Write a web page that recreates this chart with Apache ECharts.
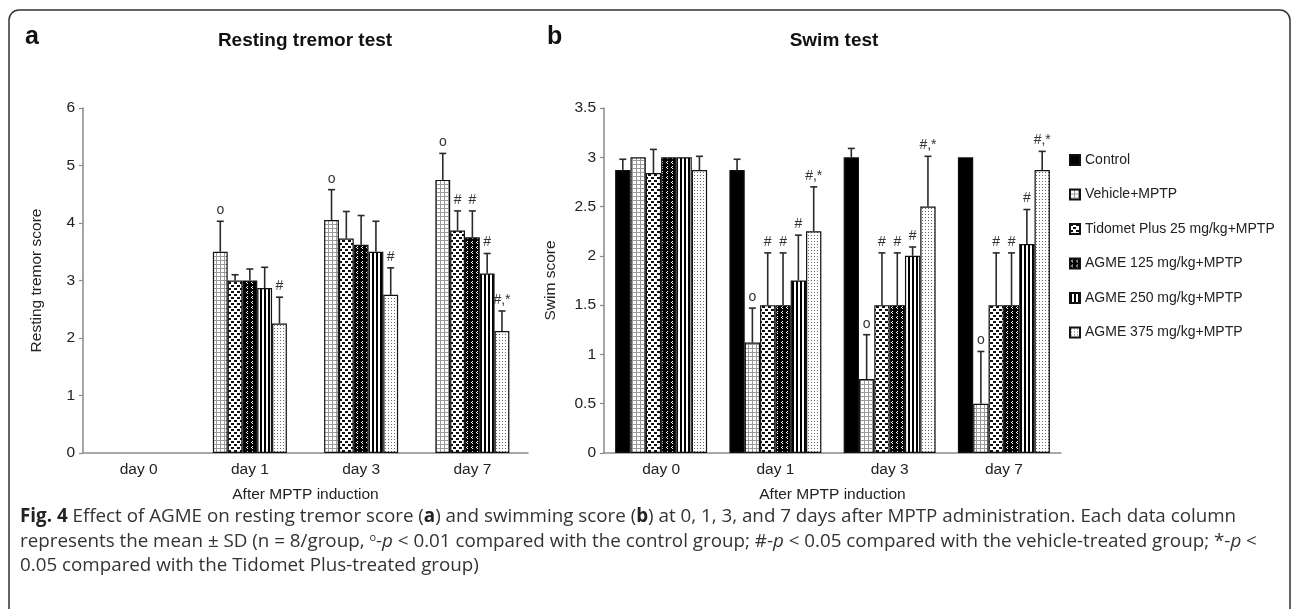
<!DOCTYPE html>
<html>
<head>
<meta charset="utf-8">
<script src="https://cdn.jsdelivr.net/npm/echarts@6/dist/echarts.min.js"></script>
<style>
  html, body { margin: 0; padding: 0; background: #fff; }
  #fig { width: 1292px; height: 609px; }
</style>
</head>
<body>
<div id="fig"></div>
<script>
const days = ['day 0', 'day 1', 'day 3', 'day 7'];
const groupNames = ['Control', 'Vehicle+MPTP', 'Tidomet Plus 25 mg/kg+MPTP', 'AGME 125 mg/kg+MPTP', 'AGME 250 mg/kg+MPTP', 'AGME 375 mg/kg+MPTP'];
const tremorTicks = [0, 6, 1];
const swimTicks = [0, 3.5, 0.5];

// a: resting tremor score (mean, SD, significance mark)
const tremorVehicle = [0, 3.5, 4.05, 4.75];
const tremorVehicleSd = [0, 0.53, 0.53, 0.46];
const tremorVehicleMark = ['', 'o', 'o', 'o'];
const tremorTidomet = [0, 3.0, 3.73, 3.87];
const tremorTidometSd = [0, 0.1, 0.47, 0.34];
const tremorTidometMark = ['', '', '', '#'];
const tremorAgme125 = [0, 3.0, 3.62, 3.75];
const tremorAgme125Sd = [0, 0.2, 0.51, 0.46];
const tremorAgme125Mark = ['', '', '', '#'];
const tremorAgme250 = [0, 2.87, 3.5, 3.12];
const tremorAgme250Sd = [0, 0.36, 0.53, 0.35];
const tremorAgme250Mark = ['', '', '', '#'];
const tremorAgme375 = [0, 2.25, 2.75, 2.12];
const tremorAgme375Sd = [0, 0.46, 0.47, 0.35];
const tremorAgme375Mark = ['', '#', '#', '#,*'];

// b: swim score
const swimControl = [2.87, 2.87, 3.0, 3.0];
const swimControlSd = [0.11, 0.11, 0.09, 0];
const swimControlMark = ['', '', '', ''];
const swimVehicle = [3.0, 1.12, 0.75, 0.5];
const swimVehicleSd = [0, 0.35, 0.45, 0.53];
const swimVehicleMark = ['', 'o', 'o', 'o'];
const swimTidomet = [2.84, 1.5, 1.5, 1.5];
const swimTidometSd = [0.24, 0.53, 0.53, 0.53];
const swimTidometMark = ['', '#', '#', '#'];
const swimAgme125 = [3.0, 1.5, 1.5, 1.5];
const swimAgme125Sd = [0, 0.53, 0.53, 0.53];
const swimAgme125Mark = ['', '#', '#', '#'];
const swimAgme250 = [3.0, 1.75, 2.0, 2.12];
const swimAgme250Sd = [0, 0.46, 0.09, 0.35];
const swimAgme250Mark = ['', '#', '#', '#'];
const swimAgme375 = [2.87, 2.25, 2.5, 2.87];
const swimAgme375Sd = [0.14, 0.45, 0.51, 0.19];
const swimAgme375Mark = ['', '#,*', '#,*', '#,*'];

const FONT = "'Liberation Sans', Arial, sans-serif";
const CAP = 18.8;

function tile (w, h, draw) {
  const c = document.createElement('canvas');
  c.width = w;
  c.height = h;
  const g = c.getContext('2d');
  g.fillStyle = '#fff';
  g.fillRect(0, 0, w, h);
  draw(g);
  return { image: c, repeat: 'repeat' };
}

const fills = [
  '#000',
  tile(4, 4, g => { g.fillStyle = '#9a9a9a'; g.fillRect(0, 0, 4, 1); g.fillRect(0, 0, 1, 4); }),
  tile(6, 6, g => {
    g.fillStyle = '#111';
    g.fillRect(0, 0, 3, 2);
    g.fillRect(3, 3, 3, 2);
  }),
  tile(5, 5, g => {
    g.fillStyle = '#000'; g.fillRect(0, 0, 5, 5);
    g.fillStyle = '#fff';
    [[2, 1], [1, 2], [2, 3]].forEach(p => g.fillRect(p[0], p[1], 1, 1));
  }),
  tile(4, 1, g => { g.fillStyle = '#000'; g.fillRect(0, 0, 2, 1); }),
  tile(3, 3, g => { g.fillStyle = '#6a6a6a'; g.fillRect(1, 1, 1, 1); })
];

const tremorGroups = [
  [1, tremorVehicle, tremorVehicleSd, tremorVehicleMark],
  [2, tremorTidomet, tremorTidometSd, tremorTidometMark],
  [3, tremorAgme125, tremorAgme125Sd, tremorAgme125Mark],
  [4, tremorAgme250, tremorAgme250Sd, tremorAgme250Mark],
  [5, tremorAgme375, tremorAgme375Sd, tremorAgme375Mark]
];
const swimGroups = [
  [0, swimControl, swimControlSd, swimControlMark],
  [1, swimVehicle, swimVehicleSd, swimVehicleMark],
  [2, swimTidomet, swimTidometSd, swimTidometMark],
  [3, swimAgme125, swimAgme125Sd, swimAgme125Mark],
  [4, swimAgme250, swimAgme250Sd, swimAgme250Mark],
  [5, swimAgme375, swimAgme375Sd, swimAgme375Mark]
];

const series = [];
function addPanel (groups, axis, gap) {
  const n = groups.length;
  groups.forEach((grp, k) => {
    const [gi, means, sds, marks] = grp;
    series.push({
      name: groupNames[gi],
      type: 'bar',
      xAxisIndex: axis,
      yAxisIndex: axis,
      barGap: '0%',
      barCategoryGap: (gap * 100) + '%',
      data: means.map(v => v === 0 ? { value: 0, itemStyle: { borderWidth: 0 } } : v),
      itemStyle: { color: fills[gi], borderColor: '#111', borderWidth: 1.2 },
      emphasis: { disabled: true },
      z: 2
    });
    series.push({
      name: groupNames[gi] + ' SD',
      type: 'custom',
      xAxisIndex: axis,
      yAxisIndex: axis,
      silent: true,
      z: 3,
      data: means.map((v, i) => [i, v, sds[i]]),
      renderItem (params, api) {
        const ci = api.value(0);
        const v = api.value(1);
        const sd = api.value(2);
        const band = api.size([1, 0])[0];
        const bw = band * (1 - gap) / n;
        const cx = api.coord([ci, 0])[0] + (k - (n - 1) / 2) * bw;
        const yTop = api.coord([ci, v])[1];
        const yErr = api.coord([ci, v + sd])[1];
        const st = { stroke: '#2a2a2a', lineWidth: 1.6 };
        const kids = [];
        if (sd > 0) {
          kids.push({ type: 'line', shape: { x1: cx, y1: yTop, x2: cx, y2: yErr }, style: st });
          kids.push({ type: 'line', shape: { x1: cx - 3.5, y1: yErr, x2: cx + 3.5, y2: yErr }, style: st });
        }
        const m = marks[params.dataIndex];
        if (m) {
          kids.push({
            type: 'text', x: cx, y: yErr - 4,
            style: { text: m, textAlign: 'center', textVerticalAlign: 'bottom', font: '14px ' + FONT, fill: '#333' }
          });
        }
        return { type: 'group', children: kids };
      }
    });
  });
}
addPanel(tremorGroups, 0, 0.335);
addPanel(swimGroups, 1, 0.195);

const axisText = { color: '#222', fontSize: 15.5, fontFamily: FONT };
const axisLine = { show: true, lineStyle: { color: '#8a8a8a', width: 1.5 } };

function xAxis (gi) {
  return {
    type: 'category', gridIndex: gi, data: days,
    axisLine, axisTick: { show: false },
    axisLabel: Object.assign({ margin: 9 }, axisText),
    name: 'After MPTP induction', nameLocation: 'middle', nameGap: 34,
    nameTextStyle: axisText
  };
}
function yAxis (gi, ticks, name, gapName) {
  return {
    type: 'value', gridIndex: gi, min: ticks[0], max: ticks[1], interval: ticks[2],
    axisLine, axisTick: { show: true, length: 4, lineStyle: { color: '#8a8a8a', width: 1.2 } },
    splitLine: { show: false },
    axisLabel: Object.assign({ margin: 8 }, axisText),
    name, nameLocation: 'middle', nameGap: gapName, nameTextStyle: axisText
  };
}

const capStyle = { font: CAP + "px 'Open Sans', sans-serif", fill: '#333', textVerticalAlign: 'middle' };
const capRich = {
  b: { fontWeight: 'bold', fontFamily: 'Open Sans', fontSize: CAP, fill: '#222' },
  i: { fontStyle: 'italic', fontFamily: 'Open Sans', fontSize: CAP },
  s: { fontFamily: 'Open Sans', fontSize: 11, verticalAlign: 'top', padding: [0, 0, 7, 0] }
};
const captionLines = [
  '{b|Fig. 4} Effect of AGME on resting tremor score ({b|a}) and swimming score ({b|b}) at 0, 1, 3, and 7 days after MPTP administration. Each data column',
  'represents the mean ± SD (n = 8/group, {s|o}-{i|p} < 0.01 compared with the control group; #-{i|p} < 0.05 compared with the vehicle-treated group; *-{i|p} <',
  '0.05 compared with the Tidomet Plus-treated group)'
];
const captionY = [517, 541.5, 566];

const chart = echarts.init(document.getElementById('fig'));
chart.setOption({
  animation: false,
  backgroundColor: '#fff',
  grid: [
    { left: 83, top: 108, width: 445, height: 345 },
    { left: 604, top: 108, width: 457, height: 345 }
  ],
  xAxis: [xAxis(0), xAxis(1)],
  yAxis: [yAxis(0, tremorTicks, 'Resting tremor score', 38), yAxis(1, swimTicks, 'Swim score', 45)],
  legend: {
    data: groupNames,
    orient: 'vertical',
    left: 1064,
    top: 148,
    icon: 'rect',
    itemWidth: 10,
    itemHeight: 10,
    itemGap: 20.5,
    selectedMode: false,
    textStyle: { color: '#222', fontSize: 14, fontFamily: FONT, lineHeight: 14 }
  },
  series,
  graphic: [
    { type: 'rect', shape: { x: 9, y: 10, width: 1281, height: 700, r: 10 }, style: { fill: 'none', stroke: '#333', lineWidth: 1.5 } },
    { type: 'text', x: 25, y: 37, style: { text: 'a', font: 'bold 25px ' + FONT, fill: '#111', textVerticalAlign: 'middle' } },
    { type: 'text', x: 305, y: 41, style: { text: 'Resting tremor test', font: 'bold 19px ' + FONT, fill: '#111', textAlign: 'center', textVerticalAlign: 'middle' } },
    { type: 'text', x: 547, y: 37, style: { text: 'b', font: 'bold 25px ' + FONT, fill: '#111', textVerticalAlign: 'middle' } },
    { type: 'text', x: 834, y: 41, style: { text: 'Swim test', font: 'bold 19px ' + FONT, fill: '#111', textAlign: 'center', textVerticalAlign: 'middle' } }
  ].concat(captionLines.map((t, i) => ({
    type: 'text', x: 20, y: captionY[i],
    style: Object.assign({ text: t, rich: capRich }, capStyle)
  })))
});
</script>
</body>
</html>
